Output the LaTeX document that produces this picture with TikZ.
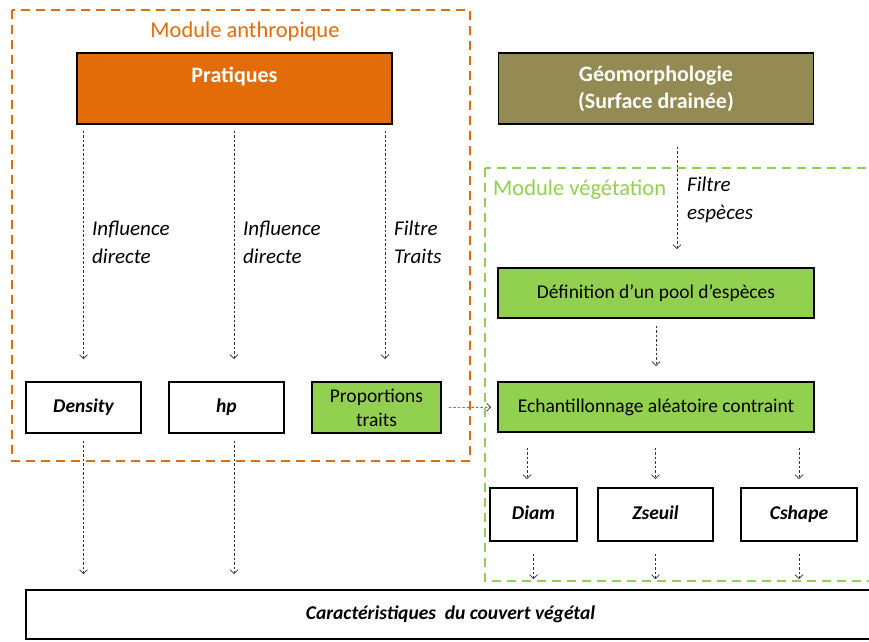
\documentclass[tikz,border=0pt]{standalone}
\usepackage{fontspec}
\setmainfont{Carlito}
\usetikzlibrary{arrows.meta}
\definecolor{orangepr}{HTML}{E36C09}
\definecolor{olivegeo}{HTML}{948A54}
\definecolor{vertveg}{HTML}{92D050}

\begin{document}
\begin{tikzpicture}[x=1pt,y=-1pt,
  box/.style={draw=black,line width=1.8pt,inner sep=2pt,align=center,
    font=\fontsize{19.5}{24}\selectfont},
  head/.style={box,text=white,font=\fontsize{22}{27}\selectfont\bfseries,
    minimum width=315pt,minimum height=71pt},
  green box/.style={box,fill=vertveg},
  param/.style={box,font=\fontsize{19.5}{24}\selectfont\bfseries\itshape,
    text height=13pt,text depth=4pt},
  flow/.style={-{Straight Barb[length=4pt,width=8pt]},draw=black!80,
    line width=0.7pt,dash pattern=on 2.5pt off 2pt},
  lbl/.style={anchor=west,align=left,inner sep=0pt,
    font=\fontsize{21}{28}\selectfont\itshape},
  module/.style={line width=2pt,dash pattern=on 9pt off 6pt}]
  \useasboundingbox (0,0) rectangle (869,641);

  % modules
  \draw[module,orangepr] (12,10) rectangle (470,461);
  \draw[module,vertveg] (485,168) rectangle (885,581);
  \node[text=orangepr,font=\fontsize{22.5}{27}\selectfont] (manth) at (245,31) {Module anthropique};
  \node[text=vertveg,font=\fontsize{22.5}{27}\selectfont,anchor=west,inner sep=0pt] (mveg) at (493,190) {Module végétation};

  % entrees
  \node[head,fill=orangepr] (prat) at (234.5,88.5) {Pratiques\\~};
  \node[head,fill=olivegeo] (geo) at (656,88.5) {Géomorphologie\\(Surface drainée)};

  % module anthropique
  \node[param,minimum width=115pt,minimum height=51pt] (dens) at (83.5,407.5) {Density};
  \node[param,minimum width=115pt,minimum height=51pt] (hp) at (226.5,407.5) {hp};
  \node[green box,minimum width=129pt,minimum height=51pt] (prop) at (376.5,407.5) {Proportions\\traits};

  % module vegetation
  \node[green box,minimum width=316pt,minimum height=50pt] (pool) at (656,293) {Définition d’un pool d’espèces};
  \node[green box,minimum width=316pt,minimum height=50pt] (ech) at (656,407) {Echantillonnage aléatoire contraint};
  \node[param,minimum width=87pt,minimum height=53pt] (diam) at (533.5,514.5) {Diam};
  \node[param,minimum width=115pt,minimum height=53pt] (zseuil) at (655.5,514.5) {Zseuil};
  \node[param,minimum width=116pt,minimum height=53pt] (cshape) at (799,514.5) {Cshape};

  % sortie
  \node[param,minimum width=849pt,minimum height=49pt] (couv) at (450.5,614.5) {Caractéristiques~~du couvert végétal};

  \coordinate (hpin) at ([xshift=7.5pt]hp.north);
  \coordinate (propin) at ([xshift=8.5pt]prop.north);
  \coordinate (geoout) at ([xshift=21pt]geo.south);
  \coordinate (diamin) at ([xshift=-6.5pt]diam.north);

  % pratiques
  \draw[flow,shorten <=6pt,shorten >=22pt] (prat.south -| dens.north) -- (dens.north);
  \draw[flow,shorten <=6pt,shorten >=22pt] (prat.south -| hpin) -- (hpin);
  \draw[flow,shorten <=6pt,shorten >=22pt] (prat.south -| propin) -- (propin);
  \node[lbl] (l1) at (92,242) {Influence\\directe};
  \node[lbl] (l2) at (243,242) {Influence\\directe};
  \node[lbl] (l3) at (394,242) {Filtre\\Traits};

  % geomorphologie
  \draw[flow,shorten <=22pt,shorten >=18pt] (geoout) -- (geoout |- pool.north);
  \node[lbl] (l4) at (687,200) {Filtre\\espèces};
  \draw[flow,shorten <=7pt,shorten >=15pt] (pool) -- (ech);
  \draw[flow,shorten <=7pt,shorten >=6pt] (prop) -- (ech);

  % parametres
  \draw[flow,shorten <=15pt,shorten >=8pt] (ech.south -| diamin) -- (diamin);
  \draw[flow,shorten <=15pt,shorten >=8pt] (ech.south -| zseuil.north) -- (zseuil.north);
  \draw[flow,shorten <=15pt,shorten >=8pt] (ech.south -| cshape.north) -- (cshape.north);
  \draw[flow,shorten <=12pt,shorten >=10pt] (diam) -- (diam |- couv.north);
  \draw[flow,shorten <=12pt,shorten >=10pt] (zseuil) -- (zseuil |- couv.north);
  \draw[flow,shorten <=12pt,shorten >=10pt] (cshape) -- (cshape |- couv.north);
  \draw[flow,shorten <=7pt,shorten >=15pt] (dens.south) -- (dens |- couv.north);
  \draw[flow,shorten <=7pt,shorten >=15pt] (hp.south -| hpin) -- (hpin |- couv.north);
\end{tikzpicture}
\end{document}
